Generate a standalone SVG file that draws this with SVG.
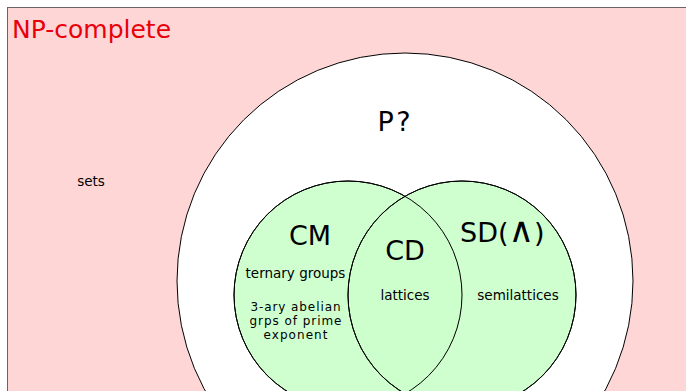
<svg xmlns="http://www.w3.org/2000/svg" width="686" height="391" viewBox="0 0 686 391">
<style>
text{font-family:"DejaVu Sans","Liberation Sans",sans-serif;fill:#000}
.big{font-size:27px}
.sm{font-size:13.5px}
.xs{font-size:12px}
.c{text-anchor:middle}
.circ{stroke:#000;stroke-width:1}
</style>
<rect id="np" x="7.5" y="7.5" width="700" height="400" fill="#ffd6d6" stroke="#6e6262" stroke-width="1"/>
<text x="12" y="38" style="font-size:25px;fill:#e8000b">NP-complete</text>
<text class="sm c" x="91" y="186">sets</text>
<g id="P">
<circle class="circ" cx="405" cy="281" r="228" fill="#ffffff"/>
<text class="big c" x="394" y="131" textLength="33" lengthAdjust="spacing">P ?</text>
</g>
<g id="CM">
<circle class="circ" cx="348" cy="295" r="114" fill="#ccffcc" fill-opacity="0.95"/>
</g>
<g id="SD">
<circle class="circ" cx="462" cy="295" r="114" fill="#ccffcc" fill-opacity="0.95"/>
</g>
<g id="outlines" fill="none">
<circle class="circ" cx="348" cy="295" r="114"/>
<circle class="circ" cx="462" cy="295" r="114"/>
</g>
<g id="labels">
<text class="big c" x="310" y="245">CM</text>
<text class="sm c" x="295.5" y="278">ternary groups</text>
<text class="xs c" x="295.5" y="311" textLength="90" lengthAdjust="spacing">3-ary abelian</text>
<text class="xs c" x="295.5" y="325" textLength="92" lengthAdjust="spacing">grps of prime</text>
<text class="xs c" x="295.5" y="339" textLength="64" lengthAdjust="spacing">exponent</text>
<text class="big c" x="405" y="260">CD</text>
<text class="sm c" x="405" y="300">lattices</text>
<text class="big" x="460" y="242">SD(<tspan style="font-size:35px">∧</tspan>)</text>
<text class="sm c" x="518" y="300">semilattices</text>
</g>
</svg>
